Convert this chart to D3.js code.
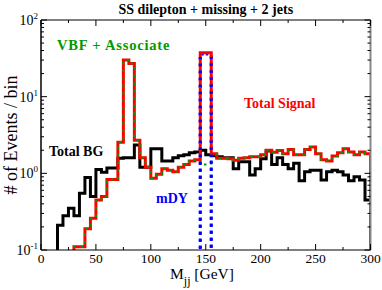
<!DOCTYPE html>
<html>
<head>
<meta charset="utf-8">
<script src="https://cdn.jsdelivr.net/npm/d3@7"></script>
<style>
  body { margin: 0; background: #fff; }
  text { font-family: "Liberation Serif", "Times New Roman", serif; }
</style>
</head>
<body>
<div id="chart"></div>
<script>
// histogram bins are 5 GeV wide, values are events per bin
const binWidth = 5;

const bgStart = 15;
const bgValues = [
  0.21, 0.28, 0.35, 0.28, 0.55, 0.88, 0.50,
  1.12, 1.03, 1.17, 1.17, 1.57, 1.60, 1.60, 2.35, 1.20, 1.20,
  2.10, 2.10, 1.45, 1.45, 1.60, 1.70, 1.75, 1.85, 1.90, 2.00,
  1.75, 1.70, 1.65, 1.60, 1.60, 1.15, 1.42, 1.42, 0.95, 1.15,
  1.55, 1.95, 1.30, 1.60, 1.30, 1.15, 1.35, 0.80, 1.05, 1.10,
  1.10, 0.82, 1.05, 1.10, 1.05, 0.95, 0.80, 0.90, 0.82, 0.45
];

const vbfStart = 30;
const vbfValues = [
  0.11, 0.11, 0.19, 0.26, 0.45, 0.50, 0.83, 0.83, 2.55, 30,
  27, 2.7, 1.6, 1.2, 0.86, 0.97, 1.15, 1.10, 1.05, 1.20,
  1.30, 1.45, 1.50, 1.30, 1.30, 1.80, 1.57, 1.57, 1.55, 1.48,
  1.57, 1.60, 1.65, 1.65, 1.75, 2.00, 1.88, 1.98, 1.80, 2.05,
  1.75, 1.75, 2.05, 2.20, 1.80, 1.50, 1.45, 1.68, 1.85, 2.10,
  1.90, 1.75, 1.90, 1.80
];

const mdyStart = 145;
const mdyValues = [36, 36];

const xTicks = [0, 50, 100, 150, 200, 250, 300];
const xMinorTicks = [25, 75, 125, 175, 225, 275];
const yTicks = [0.1, 1, 10, 100];
const yTickExp = ["-1", "0", "1", "2"];

const W = 382, H = 290;
const margin = {top: 20, right: 11.5, bottom: 40, left: 41};
const width = W - margin.left - margin.right;
const height = H - margin.top - margin.bottom;

const x = d3.scaleLinear().domain([0, 300]).range([0, width]);
const y = d3.scaleLog().domain([0.1, 100]).range([height, 0]);

// total signal = VBF + mDY
const totalValues = vbfValues.map((v, i) => {
  const j = (vbfStart + i * binWidth - mdyStart) / binWidth;
  return v + (j >= 0 && j < mdyValues.length ? mdyValues[j] : 0);
});

function stepPoints(start, values) {
  const pts = [[start, 0]];
  values.forEach((v, i) => {
    pts.push([start + i * binWidth, v]);
    pts.push([start + (i + 1) * binWidth, v]);
  });
  pts.push([start + values.length * binWidth, 0]);
  return pts;
}

const line = d3.line()
  .x(d => x(d[0]))
  .y(d => d[1] > 0 ? y(d[1]) : height + 20);

const svg = d3.select("#chart").append("svg")
  .attr("width", W)
  .attr("height", H);

svg.append("defs").append("clipPath").attr("id", "clip")
  .append("rect").attr("width", width).attr("height", height);

const g = svg.append("g")
  .attr("transform", "translate(" + margin.left + "," + margin.top + ")");

const plot = g.append("g").attr("clip-path", "url(#clip)");

plot.append("path")
  .attr("d", line(stepPoints(bgStart, bgValues)))
  .attr("fill", "none")
  .attr("stroke", "black")
  .attr("stroke-width", 3);

plot.append("path")
  .attr("d", line(stepPoints(mdyStart, mdyValues)))
  .attr("fill", "none")
  .attr("stroke", "#0000ff")
  .attr("stroke-width", 3)
  .attr("stroke-dasharray", "2.5,4.5");

plot.append("path")
  .attr("d", line(stepPoints(vbfStart, totalValues)))
  .attr("fill", "none")
  .attr("stroke", "#ff0000")
  .attr("stroke-width", 3);

plot.append("path")
  .attr("d", line(stepPoints(vbfStart, vbfValues)))
  .attr("fill", "none")
  .attr("stroke", "#009a00")
  .attr("stroke-width", 2)
  .attr("stroke-dasharray", "2.5,5");

// the mDY dots show on top of the red sides of the peak
const mdyEdges = [mdyStart, mdyStart + mdyValues.length * binWidth];
plot.selectAll(".mdy-edge").data(mdyEdges).enter().append("line")
  .attr("x1", d => x(d)).attr("x2", d => x(d))
  .attr("y1", height + 5).attr("y2", y(d3.max(mdyValues)) + 3)
  .attr("stroke", "#0000ff")
  .attr("stroke-width", 3)
  .attr("stroke-dasharray", "2.5,4.5");

// frame
g.append("line").attr("x1", 0).attr("x2", width).attr("y1", 0).attr("y2", 0)
  .attr("stroke", "black").attr("stroke-width", 1);
g.append("line").attr("x1", 0).attr("x2", width).attr("y1", height).attr("y2", height)
  .attr("stroke", "black").attr("stroke-width", 1.2);
g.append("line").attr("x1", 0).attr("x2", 0).attr("y1", 0).attr("y2", height)
  .attr("stroke", "black").attr("stroke-width", 1.5);
g.append("line").attr("x1", width).attr("x2", width).attr("y1", 0).attr("y2", height)
  .attr("stroke", "#888").attr("stroke-width", 2);

// x ticks, pointing inwards on top and bottom
const tickG = g.append("g").attr("stroke", "black").attr("stroke-width", 1);
xTicks.concat(xMinorTicks).forEach(t => {
  const len = xTicks.includes(t) ? 6 : 3;
  tickG.append("line").attr("x1", x(t)).attr("x2", x(t)).attr("y1", height).attr("y2", height - len);
  tickG.append("line").attr("x1", x(t)).attr("x2", x(t)).attr("y1", 0).attr("y2", len);
});

// y ticks, major at decades, minor at 2..9
yTicks.forEach((t, i) => {
  tickG.append("line").attr("x1", 0).attr("x2", 6).attr("y1", y(t)).attr("y2", y(t));
  tickG.append("line").attr("x1", width).attr("x2", width - 6).attr("y1", y(t)).attr("y2", y(t));
  if (i < yTicks.length - 1) {
    for (let k = 2; k <= 9; k++) {
      const v = t * k;
      tickG.append("line").attr("x1", 0).attr("x2", 3).attr("y1", y(v)).attr("y2", y(v));
      tickG.append("line").attr("x1", width).attr("x2", width - 3).attr("y1", y(v)).attr("y2", y(v));
    }
  }
});

// tick labels
g.selectAll(".xlab").data(xTicks).enter().append("text")
  .attr("x", d => x(d))
  .attr("y", height + 12.5)
  .attr("text-anchor", "middle")
  .attr("font-size", 13.5)
  .text(d => d);

yTicks.forEach((t, i) => {
  const txt = g.append("text")
    .attr("x", -3)
    .attr("y", y(t) + 5)
    .attr("text-anchor", "end")
    .attr("font-size", 14);
  txt.append("tspan").text("10");
  txt.append("tspan").attr("dy", -6).attr("font-size", 9).text(yTickExp[i]);
});

// titles
svg.append("text")
  .attr("x", margin.left + width / 2)
  .attr("y", 13.5)
  .attr("text-anchor", "middle")
  .attr("font-size", 14)
  .attr("font-weight", "bold")
  .text("SS dilepton + missing + 2 jets");

svg.append("text")
  .attr("transform", "translate(16.5," + (margin.top + height / 2) + ") rotate(-90)")
  .attr("text-anchor", "middle")
  .attr("font-size", 18)
  .text("# of Events / bin");

const xt = svg.append("text")
  .attr("x", 170)
  .attr("y", 279)
  .attr("font-size", 15.5);
xt.append("tspan").text("M");
xt.append("tspan").attr("dy", 5.5).attr("font-size", 12).text("jj");
xt.append("tspan").attr("dy", -5.5).text(" [GeV]");

// series labels
svg.append("text").attr("x", 57).attr("y", 50)
  .attr("font-size", 14.5).attr("font-weight", "bold").attr("fill", "#009a00")
  .attr("letter-spacing", 0.8)
  .text("VBF + Associate");
svg.append("text").attr("x", 244).attr("y", 107.5)
  .attr("font-size", 14).attr("font-weight", "bold").attr("fill", "#ff0000")
  .text("Total Signal");
svg.append("text").attr("x", 49).attr("y", 156)
  .attr("font-size", 14).attr("font-weight", "bold").attr("fill", "black")
  .text("Total BG");
svg.append("text").attr("x", 156).attr("y", 203)
  .attr("font-size", 14).attr("font-weight", "bold").attr("fill", "#0000ff")
  .text("mDY");
</script>
</body>
</html>
